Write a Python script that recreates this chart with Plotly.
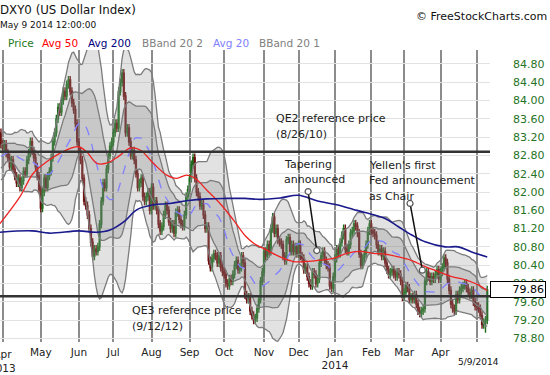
import numpy as np
import pandas as pd
import plotly.graph_objects as go

# ---------------- data (daily closes) ----------------
close_mar13 = [82.5, 82.4, 82.3, 82.6, 82.5, 82.8, 82.7, 82.8, 83.2, 82.8,
               82.5, 82.7, 82.9, 82.8, 83.1, 82.8, 82.9, 82.9, 83.3, 83.05]
close_apr13 = [82.95, 83.05, 82.85, 82.75, 82.55, 82.7, 82.5, 82.35, 82.2, 82.3, 82.1,
               82.25, 82.45, 82.4, 82.7, 82.85, 83.1, 82.9, 82.75, 82.55, 82.35, 82.05]
close_may13 = [81.65, 82.0, 82.3, 82.1, 82.35, 82.45, 82.75, 83.1, 83.3, 83.6, 83.85,
               83.75, 84.0, 84.2, 84.1, 84.35, 84.45, 84.2, 83.95, 83.8, 83.5, 83.1]
close_jun13 = [82.9, 82.7, 82.3, 81.8, 81.7, 81.5, 81.2, 80.9, 80.6, 80.75,
               80.7, 80.8, 81.3, 81.8, 82.2, 82.1, 82.5, 82.8, 83.0, 83.1]
close_jul13 = [83.3, 83.5, 83.4, 84.2, 84.4, 84.6, 84.1, 83.3, 83.4, 83.1, 82.8,
               82.9, 82.7, 82.4, 82.1, 82.2, 82.3, 81.9, 81.8, 81.9, 82.0, 81.6]
close_aug13 = [82.1, 81.7, 81.8, 81.6, 81.3, 81.15, 81.25, 81.5, 81.7, 81.6, 81.35,
               81.2, 81.3, 81.1, 81.55, 81.6, 81.4, 81.3, 81.25, 81.5, 81.9, 82.05]
close_sep13 = [82.3, 82.6, 82.75, 82.3, 82.0, 81.9, 81.7, 81.75, 81.5, 81.2,
               81.25, 80.5, 80.35, 80.55, 80.65, 80.6, 80.45, 80.6, 80.35, 80.25]
close_oct13 = [80.2, 80.0, 79.95, 80.1, 80.05, 80.2, 80.4, 80.5, 80.3, 80.35, 80.6, 80.45,
               79.75, 79.65, 79.7, 79.4, 79.3, 79.2, 79.25, 79.45, 79.65, 80.05, 80.25]
close_nov13 = [80.7, 80.6, 80.85, 80.7, 81.2, 81.45, 81.1, 81.2, 80.95, 80.9,
               80.85, 80.6, 80.5, 80.95, 81.0, 80.7, 80.85, 80.7, 80.8, 80.65]
close_dec13 = [80.85, 80.6, 80.55, 80.3, 80.35, 80.15, 80.0, 79.95, 80.25, 80.2, 80.0,
               80.1, 80.45, 80.6, 80.7, 80.5, 80.4, 80.35, 79.95, 79.9, 80.15]
close_jan14 = [80.55, 80.75, 80.65, 80.9, 81.05, 81.2, 80.75, 80.7, 80.85, 81.1, 81.15,
               81.3, 81.25, 81.1, 80.65, 80.4, 80.55, 80.65, 80.85, 81.15, 81.3]
close_feb14 = [81.15, 81.1, 81.05, 80.85, 80.7, 80.75, 80.6, 80.7, 80.45, 80.3,
               80.2, 80.25, 80.3, 80.2, 80.15, 80.25, 80.2, 80.05, 79.7]
close_mar14 = [79.8, 79.95, 79.9, 79.65, 79.7, 79.65, 79.75, 79.55, 79.4, 79.35, 79.4,
               79.45, 80.05, 80.25, 80.15, 80.05, 80.15, 80.1, 80.2, 80.3, 80.1]
close_apr14 = [80.25, 80.35, 80.55, 80.45, 80.1, 79.85, 79.55, 79.45, 79.4, 79.75, 79.65,
               79.85, 79.9, 79.95, 80.0, 79.9, 79.8, 79.75, 79.85, 79.6, 79.5]
close_may14 = [79.5, 79.45, 79.3, 79.1, 79.15, 79.2, 79.86]

holidays = ['2013-03-29', '2013-05-27', '2013-07-04', '2013-09-02', '2013-11-28',
            '2013-12-25', '2014-01-01', '2014-01-20', '2014-02-17', '2014-04-18']

# 50- and 200-day averages (trading-day index, value)
avg50_x = [-1.6, 10, 17.7, 25.4, 37, 43.7, 48.5, 54.3, 60, 67, 73.6, 79.4, 87, 94.8, 100.5,
           106.3, 111.2, 118, 125.6, 133.3, 140, 145, 152.6, 160.3, 168, 175.7, 183.4, 191,
           198.8, 206.5, 214, 221, 228.7, 236.4, 244.1, 251.8, 259.5, 267.2, 274.9, 280]
avg50_y = [81.31, 81.90, 82.41, 82.66, 82.92, 82.99, 82.88, 82.63, 82.63, 82.78, 82.96, 82.92,
           82.63, 82.37, 82.30, 82.37, 82.30, 82.04, 81.75, 81.39, 81.05, 80.88, 80.73, 80.58,
           80.48, 80.48, 80.51, 80.55, 80.66, 80.70, 80.66, 80.64, 80.58, 80.50, 80.37, 80.26,
           80.15, 80.08, 79.97, 79.84]
avg200_x = [-1.6, 17, 27, 44, 54, 62, 70.7, 77.4, 87, 96.7, 106.3, 118, 129.4, 140, 148.7,
            160.3, 170.9, 181.5, 193, 202.7, 209.4, 221, 228.7, 236.4, 244.1, 255.6, 263.3,
            271, 280]
avg200_y = [81.12, 81.15, 81.10, 81.15, 81.12, 81.17, 81.37, 81.61, 81.72, 81.75, 81.81,
            81.85, 81.86, 81.86, 81.84, 81.87, 81.93, 81.81, 81.72, 81.62, 81.55, 81.42, 81.24,
            81.06, 80.91, 80.80, 80.80, 80.69, 80.58]

qe2_ref = 82.88
qe3_ref = 79.72
last_price = 79.86

y_ticks = [78.8, 79.2, 79.6, 80.0, 80.4, 80.8, 81.2, 81.6, 82.0, 82.4, 82.8,
           83.2, 83.6, 84.0, 84.4, 84.8]
month_labels = ['', 'May', 'Jun', 'Jul', 'Aug', 'Sep', 'Oct', 'Nov', 'Dec',
                'Jan<br>2014', 'Feb', 'Mar', 'Apr', '']
first_label = 'Apr<br>2013'

# ---------------- derived series ----------------
closes = (close_mar13 + close_apr13 + close_may13 + close_jun13 + close_jul13 + close_aug13 +
          close_sep13 + close_oct13 + close_nov13 + close_dec13 + close_jan14 + close_feb14 +
          close_mar14 + close_apr14 + close_may14)
n_pre = len(close_mar13)
dates = pd.bdate_range('2013-03-01', '2014-05-09', freq='C', holidays=holidays)
dates = dates[:len(closes)]
xs = np.arange(len(closes)) - n_pre

c = np.array(closes)
o = np.concatenate([[c[0]], c[:-1]])
h = np.maximum(o, c) + 0.09
l = np.minimum(o, c) - 0.09
l[-2] = 78.92

s = pd.Series(c)
mid = s.rolling(20).mean()
sd = s.rolling(20).std(ddof=0)
up2, lo2 = mid + 2 * sd, mid - 2 * sd
up1, lo1 = mid + sd, mid - sd
k = 19  # first full window

# month tick positions (first trading day of each month)
tick_idx = []
seen = set()
for i, d in enumerate(dates):
    key = (d.year, d.month)
    if key not in seen:
        seen.add(key)
        if i >= n_pre:
            tick_idx.append(int(xs[i]))

FONT = 'DejaVu Sans'
fig = go.Figure()

band_line = dict(color='#7c7c7c', width=1.3)
fig.add_trace(go.Scatter(x=xs[k:], y=up2[k:], mode='lines', line=band_line, hoverinfo='skip'))
fig.add_trace(go.Scatter(x=xs[k:], y=lo2[k:], mode='lines', line=band_line, fill='tonexty',
                         fillcolor='rgba(150,150,150,0.28)', hoverinfo='skip'))
fig.add_trace(go.Scatter(x=xs[k:], y=up1[k:], mode='lines', line=band_line, hoverinfo='skip'))
fig.add_trace(go.Scatter(x=xs[k:], y=lo1[k:], mode='lines', line=band_line, fill='tonexty',
                         fillcolor='rgba(110,110,110,0.22)', hoverinfo='skip'))

fig.add_trace(go.Candlestick(
    x=xs, open=o, high=h, low=l, close=c, whiskerwidth=0,
    increasing=dict(line=dict(color='#1c6e1c', width=1.4), fillcolor='#2f8f2f'),
    decreasing=dict(line=dict(color='#6e0f0f', width=1.4), fillcolor='#8b1a1a'),
    hoverinfo='skip'))

fig.add_trace(go.Scatter(x=xs[k:], y=mid[k:], mode='lines',
                         line=dict(color='#8080ff', width=1.3, dash='dash'), hoverinfo='skip'))
fig.add_trace(go.Scatter(x=avg50_x, y=avg50_y, mode='lines', line_shape='spline',
                         line=dict(color='#ee2222', width=1.3), hoverinfo='skip'))
fig.add_trace(go.Scatter(x=avg200_x, y=avg200_y, mode='lines', line_shape='spline',
                         line=dict(color='#1a1a8c', width=1.6), hoverinfo='skip'))

# pointer lines for annotations
pointer_style = dict(mode='lines+markers', line=dict(color='#111111', width=1.5),
                     marker=dict(symbol='circle', size=6, color='white',
                                 line=dict(color='#555555', width=1.2)),
                     hoverinfo='skip')
fig.add_trace(go.Scatter(x=[176.5, 181.5], y=[82.01, 80.72], **pointer_style))
fig.add_trace(go.Scatter(x=[235.4, 242.5], y=[81.75, 80.29], **pointer_style))

for ref in (qe2_ref, qe3_ref):
    fig.add_shape(type='line', xref='paper', x0=0, x1=1, yref='y', y0=ref, y1=ref,
                  line=dict(color='#333333', width=2.5), layer='above')

ann = []
def txt(x, y, t, size=11, color='#222222', xref='x', yref='y', xanchor='left',
        yanchor='middle', **kw):
    ann.append(dict(x=x, y=y, xref=xref, yref=yref, text=t, showarrow=False,
                    xanchor=xanchor, yanchor=yanchor,
                    font=dict(family=FONT, size=size, color=color), **kw))

txt(156.8, 83.61, 'QE2 reference price')
txt(156.8, 83.26, '(8/26/10)')
txt(161.6, 82.61, 'Tapering')
txt(161.6, 82.28, 'announced')
txt(210.8, 82.59, "Yellen's first")
txt(210.8, 82.25, 'Fed announcement')
txt(210.8, 81.90, 'as Chair')
txt(73.6, 79.40, 'QE3 reference price')
txt(73.6, 79.05, '(9/12/12)')

# header texts
txt(-0.004, 1.137, 'DXY0 (US Dollar Index)', size=11.8, color='#111111', xref='paper', yref='paper')
txt(-0.004, 1.086, 'May 9 2014 12:00:00', size=9, color='#111111', xref='paper', yref='paper')
legend_items = [('Price', '#1c7a1c', 8.3), ('Avg 50', '#ff0000', 41.7), ('Avg 200', '#000080', 87.7),
                ('BBand 20 2', '#808080', 141.7), ('Avg 20', '#8080ff', 213),
                ('BBand 20 1', '#808080', 259.3)]
for name, col, px in legend_items:
    txt(px / 490 - 0.004, 1.024, name, size=10.5, color=col, xref='paper', yref='paper')
txt(1.121, 1.114, '© FreeStockCharts.com', size=11, color='#111111', xref='paper',
    yref='paper', xanchor='right')
txt(274.7, -0.067, '5/9/2014', size=9, color='#111111', yref='paper', xanchor='center')
# first month label, centred on its tick and clipped by the left page edge
txt(tick_idx[0], -0.012, first_label, size=10.5, color='#222222', yref='paper',
    xanchor='center', yanchor='top')

# current price box
ann.append(dict(x=1, y=last_price, xref='paper', yref='y', text='79.86', showarrow=False,
                xanchor='left', yanchor='middle', align='right', width=52,
                font=dict(family=FONT, size=11, color='#000000'),
                bgcolor='white', bordercolor='#000000', borderwidth=1, borderpad=1))

fig.update_layout(
    width=550, height=375, margin=dict(l=0, r=60, t=50, b=33),
    paper_bgcolor='white', plot_bgcolor='white', showlegend=False,
    annotations=ann,
    xaxis=dict(range=[-1.56, 281.6], tickvals=tick_idx, ticktext=month_labels,
               showgrid=True, gridcolor='#8c8c8c', gridwidth=1.5, zeroline=False,
               ticks='', showline=False, rangeslider=dict(visible=False),
               ticklabelstandoff=2,
               tickfont=dict(family=FONT, size=10.5, color='#222222')),
    yaxis=dict(side='right', range=[78.72, 85.106], tickvals=y_ticks,
               ticktext=['%.2f' % v for v in y_ticks], showgrid=True, gridcolor='#e2e2e2',
               gridwidth=1, zeroline=False, ticks='', ticklabelstandoff=22,
               ticklabeloverflow='allow',
               tickfont=dict(family=FONT, size=11, color='#267326')),
)

fig.write_html('out.html', config={'displayModeBar': False},
               post_script="document.body.style.margin='0';")
